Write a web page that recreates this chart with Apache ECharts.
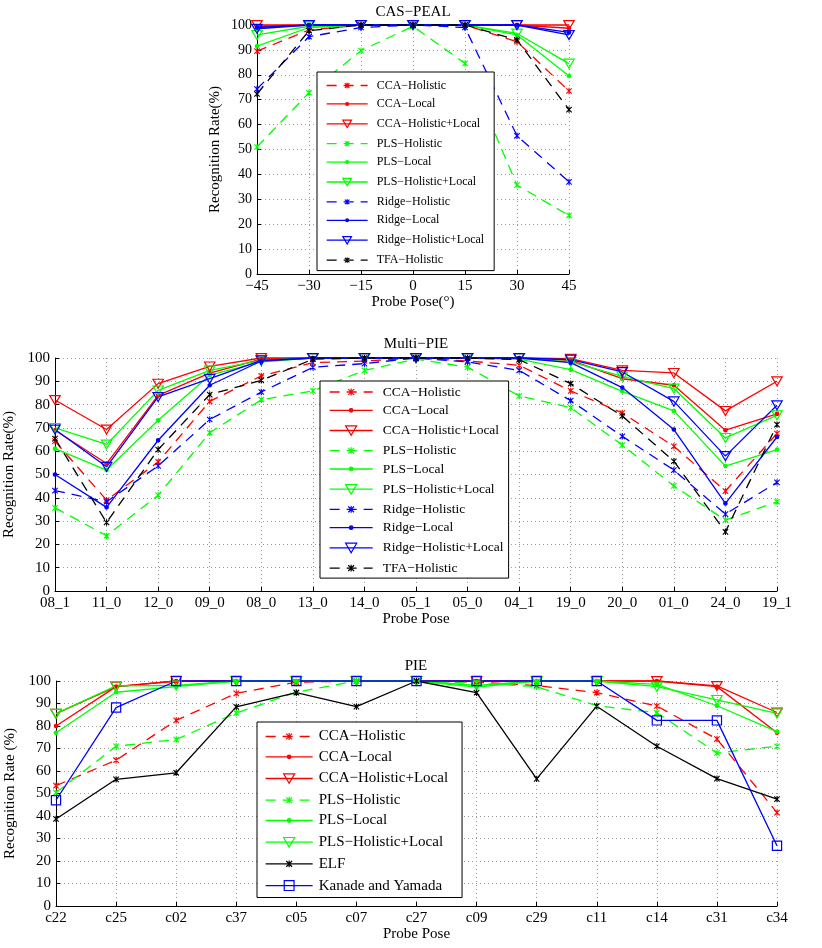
<!DOCTYPE html>
<html><head><meta charset="utf-8">
<script src="https://cdn.jsdelivr.net/npm/echarts@6/dist/echarts.min.js"></script>
<style>html,body{margin:0;padding:0;background:#fff}#c{width:822px;height:948px}</style>
</head><body><div id="c"></div>
<script>
// ---------- DATA ----------
// CAS-PEAL
const casPoses = [-45, -30, -15, 0, 15, 30, 45];
const casCcaH   = [89.5, 98, 100, 100, 100, 93.3, 73.5];
const casCcaL   = [99.5, 100, 100, 100, 100, 100, 98.7];
const casCcaHL  = [100, 100, 100, 100, 100, 100, 100];
const casPlsH   = [51, 72.8, 89.7, 99.5, 84.6, 35.7, 23.5];
const casPlsL   = [91.5, 99, 100, 100, 100, 96, 79.5];
const casPlsHL  = [96, 99.5, 100, 100, 100, 96.6, 84.5];
const casRidgeH = [74.3, 95.3, 99, 100, 99, 55.5, 37];
const casRidgeL = [99, 100, 100, 100, 100, 100, 97];
const casRidgeHL= [98.5, 100, 100, 100, 100, 100, 96];
const casTfaH   = [72.3, 97.7, 100, 100, 100, 94, 66];

// Multi-PIE
const mpCats = ['08_1','11_0','12_0','09_0','08_0','13_0','14_0','05_1','05_0','04_1','19_0','20_0','01_0','24_0','19_1'];
const mpCcaH   = [64.3, 39, 55.4, 81.4, 92.3, 98, 98.7, 100, 98.7, 96.9, 85.9, 76.4, 62.1, 42.9, 67.6];
const mpCcaL   = [69, 54.7, 84, 93.5, 99.5, 100, 100, 100, 100, 100, 99, 91.1, 88.3, 69, 76];
const mpCcaHL  = [82, 69.3, 89, 96.4, 100, 100, 100, 100, 100, 100, 99.7, 94.7, 93.6, 77.3, 90];
const mpPlsH   = [35.7, 23.7, 41.1, 67.9, 82.1, 85.9, 94.7, 99.5, 96.1, 83.7, 78.7, 62.6, 45.1, 30.4, 38.3];
const mpPlsL   = [61.1, 51.9, 73.3, 92.6, 98.3, 100, 100, 100, 100, 99.5, 95, 85.7, 77.3, 53.6, 60.7];
const mpPlsHL  = [70, 62.9, 86.1, 94.7, 99, 100, 100, 100, 100, 100, 98.3, 92.1, 86.9, 65.7, 75.4];
const mpRidgeH = [43.1, 38.3, 53.7, 73.6, 85.4, 96, 97.6, 100, 98.3, 94.7, 81.7, 66.4, 51.9, 33, 46.6];
const mpRidgeL = [50, 35.9, 64.7, 88.3, 98.7, 100, 100, 100, 100, 100, 98, 87.3, 69.3, 37.6, 66.1];
const mpRidgeHL= [69.3, 53.3, 83.3, 91.1, 99, 100, 100, 100, 100, 100, 99.3, 94, 81.4, 57.9, 79.7];
const mpTfaH   = [65.4, 29.4, 60.7, 84.3, 90.4, 99.5, 100, 100, 100, 99.3, 89, 75.1, 55.7, 25.4, 71.4];

// PIE
const pieCats = ['c22','c25','c02','c37','c05','c07','c27','c09','c29','c11','c14','c31','c34'];
const pieCcaH  = [53.5, 64.8, 82.5, 94.5, 99.5, 100, 100, 99.5, 98, 94.8, 88.9, 74.2, 41.5];
const pieCcaL  = [80, 97.5, 100, 100, 100, 100, 100, 100, 100, 100, 100, 97.5, 77];
const pieCcaHL = [85.5, 97.5, 100, 100, 100, 100, 100, 100, 100, 100, 100, 97.8, 86];
const piePlsH  = [50.4, 71, 74, 85.8, 95, 100, 100, 99, 97.5, 89, 85.9, 68, 71];
const piePlsL  = [77, 95, 97.5, 100, 100, 100, 100, 97.3, 100, 100, 98.5, 89, 77.5];
const piePlsHL = [85.5, 97.8, 98, 100, 100, 100, 100, 98, 100, 100, 97.5, 91.6, 85.6];
const pieElf   = [38.7, 56.3, 59.2, 88.5, 94.8, 88.6, 100, 94.8, 56.5, 88.8, 71, 56.6, 47.5];
const pieKy    = [47, 88.2, 100, 100, 100, 100, 100, 100, 100, 100, 82.5, 82.5, 26.8];

const yTicks = { min: 0, max: 100, interval: 10 };
const casTicks = { min: -45, max: 45, interval: 15 };

// ---------- STYLE ----------
const FONT = '"Liberation Serif", "Times New Roman", "DejaVu Serif", serif';
const M = '\u2212';
const BOX = 'M0,0M12,12';
const SYM = {
  H: 'path://' + BOX + 'M3.3,3.3L8.7,8.7M8.7,3.3L3.3,8.7M6,2.8L6,9.2',
  L: 'path://' + BOX + 'M4.3,6A1.7,1.7,0,1,1,7.7,6A1.7,1.7,0,1,1,4.3,6Z',
  HL: 'path://' + BOX + 'M0.8,1.6L11.2,1.6L6,10.6Z',
  SQ: 'path://' + BOX + 'M1.4,1.4L10.6,1.4L10.6,10.6L1.4,10.6Z'
};
const RED = '#ff0000', GREEN = '#00ff00', BLUE = '#0000ff', BLACK = '#000000';

function ser(name, data, color, kind, gi, dashed) {
  const hollow = (kind === 'HL' || kind === 'SQ');
  return {
    type: 'line', name: name, data: data, xAxisIndex: gi, yAxisIndex: gi,
    symbol: SYM[kind], symbolSize: 12, showSymbol: true, clip: false,
    lineStyle: { color: color, width: 1.3, type: dashed ? [10, 7] : 'solid' },
    itemStyle: { color: hollow ? 'none' : color, borderColor: color, borderWidth: kind === 'H' ? 1.1 : 1.2 },
    emphasis: { disabled: true }, silent: true, animation: false
  };
}
const pairs = (arr) => casPoses.map((p, i) => [p, arr[i]]);

const N = {
  ccaH: 'CCA' + M + 'Holistic', ccaL: 'CCA' + M + 'Local', ccaHL: 'CCA' + M + 'Holistic+Local',
  plsH: 'PLS' + M + 'Holistic', plsL: 'PLS' + M + 'Local', plsHL: 'PLS' + M + 'Holistic+Local',
  rH: 'Ridge' + M + 'Holistic', rL: 'Ridge' + M + 'Local', rHL: 'Ridge' + M + 'Holistic+Local',
  tfa: 'TFA' + M + 'Holistic', elf: 'ELF', ky: 'Kanade and Yamada'
};

const series = [
  ser(N.ccaH, pairs(casCcaH), RED, 'H', 0, true),
  ser(N.ccaL, pairs(casCcaL), RED, 'L', 0, false),
  ser(N.ccaHL, pairs(casCcaHL), RED, 'HL', 0, false),
  ser(N.plsH, pairs(casPlsH), GREEN, 'H', 0, true),
  ser(N.plsL, pairs(casPlsL), GREEN, 'L', 0, false),
  ser(N.plsHL, pairs(casPlsHL), GREEN, 'HL', 0, false),
  ser(N.rH, pairs(casRidgeH), BLUE, 'H', 0, true),
  ser(N.rL, pairs(casRidgeL), BLUE, 'L', 0, false),
  ser(N.rHL, pairs(casRidgeHL), BLUE, 'HL', 0, false),
  ser(N.tfa, pairs(casTfaH), BLACK, 'H', 0, true),

  ser(N.ccaH, mpCcaH, RED, 'H', 1, true),
  ser(N.ccaL, mpCcaL, RED, 'L', 1, false),
  ser(N.ccaHL, mpCcaHL, RED, 'HL', 1, false),
  ser(N.plsH, mpPlsH, GREEN, 'H', 1, true),
  ser(N.plsL, mpPlsL, GREEN, 'L', 1, false),
  ser(N.plsHL, mpPlsHL, GREEN, 'HL', 1, false),
  ser(N.rH, mpRidgeH, BLUE, 'H', 1, true),
  ser(N.rL, mpRidgeL, BLUE, 'L', 1, false),
  ser(N.rHL, mpRidgeHL, BLUE, 'HL', 1, false),
  ser(N.tfa, mpTfaH, BLACK, 'H', 1, true),

  ser(N.ccaH, pieCcaH, RED, 'H', 2, true),
  ser(N.ccaL, pieCcaL, RED, 'L', 2, false),
  ser(N.ccaHL, pieCcaHL, RED, 'HL', 2, false),
  ser(N.plsH, piePlsH, GREEN, 'H', 2, true),
  ser(N.plsL, piePlsL, GREEN, 'L', 2, false),
  ser(N.plsHL, piePlsHL, GREEN, 'HL', 2, false),
  ser(N.elf, pieElf, BLACK, 'H', 2, false),
  ser(N.ky, pieKy, BLUE, 'SQ', 2, false)
];

const gridLine = { show: true, lineStyle: { color: '#9a9a9a', type: [1, 3], width: 1 } };
const axLine = { show: true, onZero: false, lineStyle: { color: '#000', width: 1 } };
const axTick = { show: true, inside: true, length: 4, lineStyle: { color: '#000', width: 1 } };
const nameStyle = { fontFamily: FONT, fontSize: 15, color: '#000' };

function yAxis(gi, name, gap, fs) {
  return Object.assign({ type: 'value', gridIndex: gi, name: name, nameLocation: 'middle', nameGap: gap, nameRotate: 90,
    nameTextStyle: nameStyle, axisLine: axLine, axisTick: axTick, splitLine: gridLine,
    axisLabel: { fontFamily: FONT, fontSize: fs, color: '#000', margin: 5 } }, yTicks);
}
function catAxis(gi, cats, name, gap) {
  return { type: 'category', gridIndex: gi, data: cats, boundaryGap: false, name: name, nameLocation: 'middle', nameGap: gap,
    nameTextStyle: nameStyle, axisLine: axLine, axisTick: Object.assign({ alignWithLabel: true, interval: 0 }, axTick),
    splitLine: Object.assign({ interval: 0 }, gridLine),
    axisLabel: { fontFamily: FONT, fontSize: 15, color: '#000', margin: 5, interval: 0 } };
}

function legend(names, o) {
  return {
    data: names, orient: 'vertical', left: o.left, top: o.top, itemWidth: o.iw, itemHeight: o.ih, itemGap: o.gap,
    padding: o.pad, backgroundColor: '#fff', borderColor: '#000', borderWidth: 1, borderRadius: 0,
    selectedMode: false,
    itemStyle: { borderWidth: 1.2 }, lineStyle: { width: 1.3 },
    textStyle: { fontFamily: FONT, fontSize: o.fs, color: '#000', padding: [0, 0, 0, o.tg] }
  };
}

const titleStyle = { fontFamily: FONT, fontSize: 15, fontWeight: 'normal', color: '#000' };
const option = {
  backgroundColor: '#fff',
  animation: false,
  title: [
    { text: 'CAS' + M + 'PEAL', left: 413, top: 5, textAlign: 'center', padding: 0, textStyle: titleStyle },
    { text: 'Multi' + M + 'PIE', left: 416, top: 337, textAlign: 'center', padding: 0, textStyle: titleStyle },
    { text: 'PIE', left: 416, top: 659, textAlign: 'center', padding: 0, textStyle: titleStyle }
  ],
  grid: [
    { left: 257, top: 25, width: 312, height: 249, outerBoundsMode: 'none' },
    { left: 55, top: 358, width: 722, height: 233, outerBoundsMode: 'none' },
    { left: 56, top: 681, width: 721, height: 225, outerBoundsMode: 'none' }
  ],
  xAxis: [
    Object.assign({ type: 'value', gridIndex: 0, name: 'Probe Pose(\u00b0)', nameLocation: 'middle', nameGap: 21,
      nameTextStyle: nameStyle, axisLine: axLine, axisTick: axTick, splitLine: gridLine,
      axisLabel: { fontFamily: FONT, fontSize: 15, color: '#000', margin: 5, formatter: v => String(v).replace('-', M) } }, casTicks),
    catAxis(1, mpCats, 'Probe Pose', 21),
    catAxis(2, pieCats, 'Probe Pose', 21)
  ],
  yAxis: [
    yAxis(0, 'Recognition Rate(%)', 34, 14),
    yAxis(1, 'Recognition Rate(%)', 32, 15),
    yAxis(2, 'Recognition Rate (%)', 35, 15)
  ],
  legend: [
    legend([N.ccaH, N.ccaL, N.ccaHL, N.plsH, N.plsL, N.plsHL, N.rH, N.rL, N.rHL, N.tfa],
      { left: 317, top: 72, iw: 41, ih: 12.5, gap: 6.4, pad: [7.5, 10, 4.5, 9], fs: 12, tg: 4 }),
    legend([N.ccaH, N.ccaL, N.ccaHL, N.plsH, N.plsL, N.plsHL, N.rH, N.rL, N.rHL, N.tfa],
      { left: 320, top: 381, iw: 43, ih: 16, gap: 4.3, pad: [4, 5, 3, 9], fs: 13.5, tg: 5 }),
    legend([N.ccaH, N.ccaL, N.ccaHL, N.plsH, N.plsL, N.plsHL, N.elf, N.ky],
      { left: 257, top: 722, iw: 47, ih: 16, gap: 5.3, pad: [7, 14, 3, 8], fs: 15, tg: 1 })
  ],
  series: series
};

const chart = echarts.init(document.getElementById('c'), null, { renderer: 'canvas' });
chart.setOption(option);
</script>
</body></html>
